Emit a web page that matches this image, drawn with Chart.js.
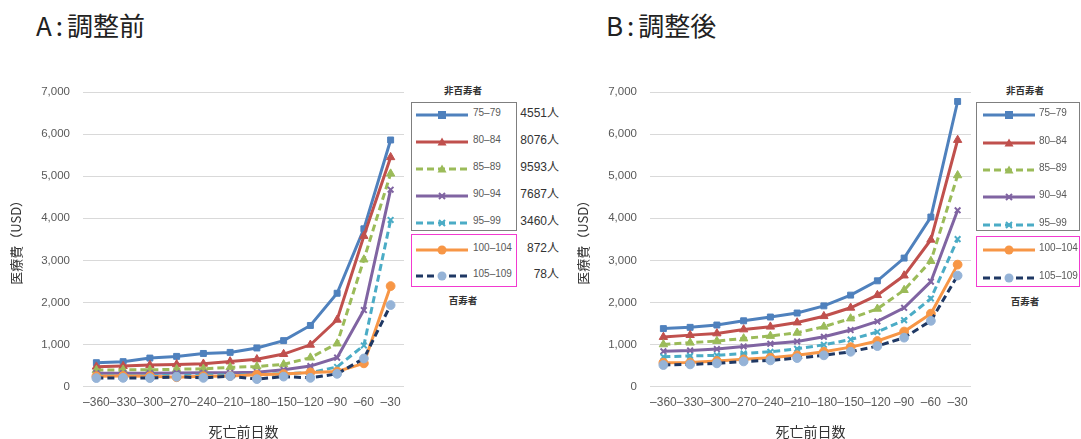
<!DOCTYPE html>
<html><head><meta charset="utf-8">
<script src="https://cdn.jsdelivr.net/npm/chart.js@4.4.1/dist/chart.umd.min.js"></script>
<style>
html,body{margin:0;padding:0;background:#fff;}
body{width:1081px;height:439px;overflow:hidden;position:relative;font-family:"Liberation Sans",Arial,sans-serif;}
canvas{position:absolute;top:0;}
.ptitle{position:absolute;top:10px;font-family:"Noto Sans CJK JP";font-size:26px;line-height:30px;color:#222;white-space:nowrap;}
.ptitle .col{margin:0 4px 0 4px;}
.head{position:absolute;font-family:"Noto Sans CJK JP";font-size:9.5px;font-weight:bold;color:#333;line-height:12px;width:80px;text-align:center;}
.box{position:absolute;box-sizing:border-box;}
.gbox{border:1.5px solid #7f7f7f;}
.pbox{border:1.5px solid #f23ad0;}
.sw{position:absolute;}
.lab{position:absolute;font-size:10px;line-height:14px;color:#595959;white-space:nowrap;}
.cnt{position:absolute;font-size:12px;line-height:14px;color:#333;white-space:nowrap;text-align:right;width:60px;font-family:"Liberation Sans","Noto Sans CJK JP";}
</style></head>
<body>
<div class="ptitle" style="left:36px">A<span class="col">:</span>調整前</div>
<div class="ptitle" style="left:606px">B<span class="col">:</span>調整後</div>
<canvas id="cA" width="410" height="439" style="left:0px"></canvas>
<canvas id="cB" width="410" height="439" style="left:567px"></canvas>
<div id="legends"></div>
<script>
// Categories (days before death)
const days = ['–360','–330','–300','–270','–240','–210','–180','–150','–120','–90','–60','–30'];
// Age groups and counts
const groups = ['75–79','80–84','85–89','90–94','95–99','100–104','105–109'];
const counts = ['4551人','8076人','9593人','7687人','3460人','872人','78人'];

// A: before adjustment (USD)
const a75_79   = [570, 595, 680, 720, 790, 815, 920, 1095, 1455, 2220, 3750, 5860];
const a80_84   = [475, 490, 515, 530, 545, 600, 650, 775, 995, 1590, 3580, 5450];
const a85_89   = [395, 400, 400, 415, 425, 460, 480, 530, 690, 1025, 3020, 5060];
const a90_94   = [320, 320, 320, 325, 330, 330, 345, 400, 490, 690, 1820, 4680];
const a95_99   = [265, 265, 260, 270, 275, 275, 285, 310, 330, 470, 980, 3960];
const a100_104 = [250, 255, 250, 225, 250, 255, 285, 300, 340, 360, 555, 2390];
const a105_109 = [205, 210, 205, 235, 210, 250, 180, 240, 210, 305, 670, 1940];

// B: after adjustment (USD)
const b75_79   = [1380, 1410, 1465, 1565, 1655, 1750, 1920, 2175, 2515, 3055, 4030, 6775];
const b80_84   = [1180, 1225, 1265, 1360, 1425, 1525, 1675, 1875, 2175, 2640, 3490, 5860];
const b85_89   = [1005, 1045, 1085, 1145, 1205, 1280, 1425, 1620, 1850, 2295, 2985, 5020];
const b90_94   = [840, 860, 895, 955, 1020, 1075, 1185, 1345, 1550, 1875, 2495, 4190];
const b95_99   = [710, 730, 745, 790, 830, 900, 995, 1120, 1300, 1580, 2095, 3505];
const b100_104 = [570, 575, 610, 650, 690, 745, 830, 940, 1085, 1310, 1735, 2900];
const b105_109 = [515, 530, 555, 600, 625, 680, 745, 830, 965, 1165, 1565, 2640];

const seriesA = [a75_79, a80_84, a85_89, a90_94, a95_99, a100_104, a105_109];
const seriesB = [b75_79, b80_84, b85_89, b90_94, b95_99, b100_104, b105_109];

// Styles
const S = [
  {c:'#4F81BD', f:'#4F81BD', dash:[],    pt:'rect',     r:4.2, pbw:1},
  {c:'#C0504D', f:'#C0504D', dash:[],    pt:'triangle', r:4.8, pbw:1},
  {c:'#9BBB59', f:'#9BBB59', dash:[7,4], pt:'triangle', r:4.8, pbw:1},
  {c:'#8064A2', f:'#8064A2', dash:[],    pt:'crossRot', r:4,   pbw:2},
  {c:'#4BACC6', f:'#4BACC6', dash:[7,4], pt:'crossRot', r:4,   pbw:2},
  {c:'#F79646', f:'#F79646', dash:[],    pt:'circle',   r:4.4, pbw:1},
  {c:'#1F3864', f:'#95B3D7', dash:[7,4], pt:'circle',   r:4.4, pbw:1}
];

function makeChart(id, series){
  return new Chart(document.getElementById(id), {
    type:'line',
    data:{labels:days, datasets:series.map((d,i)=>({
      label:groups[i], data:d, borderColor:S[i].c, backgroundColor:S[i].f,
      borderWidth:3, borderDash:S[i].dash, tension:0, fill:false, order:-i,
      pointStyle:S[i].pt, pointRadius:S[i].r, pointBorderWidth:S[i].pbw,
      pointBackgroundColor:S[i].f, pointBorderColor:(S[i].pt==='crossRot'?S[i].c:S[i].f)
    }))},
    options:{
      responsive:false, animation:false, devicePixelRatio:1,
      layout:{padding:{left:6, top:92, right:5, bottom:0}},
      plugins:{legend:{display:false}, tooltip:{enabled:false}, title:{display:false}},
      scales:{
        x:{offset:true, grid:{display:false, drawTicks:false}, border:{display:false},
           ticks:{autoSkip:false, maxRotation:0, minRotation:0, padding:9, color:'#595959',
                  font:{family:'Liberation Sans', size:12}},
           title:{display:true, text:'死亡前日数', color:'#333',
                  font:{family:'Noto Sans CJK JP', size:14, lineHeight:1}, padding:{top:0,bottom:0}},
           afterFit(s){ s.height = 52.3; }},
        y:{min:0, max:7000,
           ticks:{stepSize:1000, padding:13, color:'#595959', font:{family:'Liberation Sans', size:11.5}},
           grid:{color:'#d9d9d9', lineWidth:1, drawTicks:false}, border:{display:false},
           title:{display:true, text:'医療費（USD）', color:'#333',
                  font:{family:'Noto Sans CJK JP', size:13, lineHeight:1}, padding:{top:4,bottom:0}},
           afterFit(s){ s.width = 77; }}
      }
    }
  });
}
makeChart('cA', seriesA);
makeChart('cB', seriesB);

// HTML legends
function swatch(i){
  const s = S[i];
  const dash = s.dash.length ? `stroke-dasharray="${s.dash.join(',')}"` : '';
  let m = '';
  if (s.pt==='rect') m = `<rect x="22" y="2" width="8" height="8" fill="${s.f}"/>`;
  else if (s.pt==='triangle') m = `<polygon points="26,1.5 30.5,9.5 21.5,9.5" fill="${s.f}"/>`;
  else if (s.pt==='crossRot') m = `<path d="M23,3 L29,9 M29,3 L23,9" stroke="${s.c}" stroke-width="2"/>`;
  else m = `<circle cx="26" cy="6" r="4.5" fill="${s.f}"/>`;
  return `<svg width="52" height="12" viewBox="0 0 52 12"><line x1="0" y1="6" x2="52" y2="6" stroke="${s.c}" stroke-width="3" ${dash}/>${m}</svg>`;
}
function legend(cfg){
  let h = '';
  h += `<div class="head" style="left:${cfg.cx-40}px;top:${cfg.h1-6}px">非百寿者</div>`;
  h += `<div class="head" style="left:${cfg.cx-40}px;top:${cfg.h2-6}px">百寿者</div>`;
  h += `<div class="box gbox" style="left:${cfg.bl}px;top:${cfg.gt}px;width:${cfg.bw}px;height:${cfg.gh}px"></div>`;
  h += `<div class="box pbox" style="left:${cfg.bl}px;top:${cfg.pt}px;width:${cfg.bw}px;height:${cfg.ph}px"></div>`;
  groups.forEach((g,i)=>{
    const yc = cfg.ys[i];
    h += `<div class="sw" style="left:${cfg.lx}px;top:${yc-6}px">${swatch(i)}</div>`;
    h += `<div class="lab" style="left:${cfg.tx}px;top:${yc-7}px">${g}</div>`;
    if (cfg.counts) h += `<div class="cnt" style="left:${cfg.cr-60}px;top:${yc-7}px">${counts[i]}</div>`;
  });
  return h;
}
document.getElementById('legends').innerHTML =
  legend({cx:463, h1:90, h2:300, bl:410.5, bw:106.5, gt:101.5, gh:129, pt:234, ph:53,
          lx:416, tx:473, ys:[113.3,140.2,167.1,194,220.9,247.7,274.3], counts:true, cr:559}) +
  legend({cx:1025, h1:90, h2:300.5, bl:975.5, bw:104.5, gt:102, gh:129, pt:235.5, ph:51.5,
          lx:982.5, tx:1039, ys:[113.3,140.6,167.9,195.2,222.5,248.3,275.7], counts:false});
</script>
</body></html>
